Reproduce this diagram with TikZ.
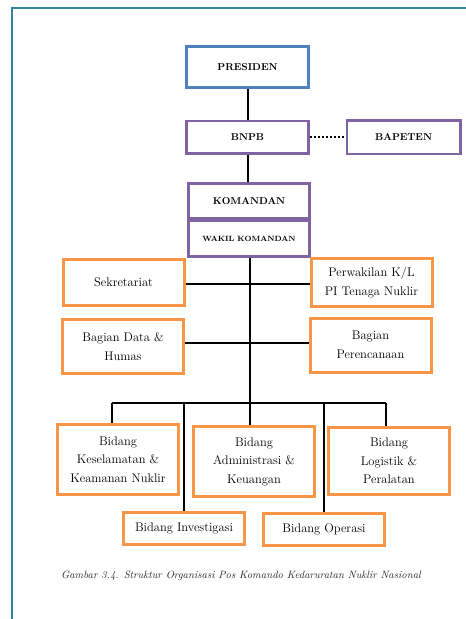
\documentclass[tikz,border=0pt]{standalone}
\usepackage{fontspec}
\usetikzlibrary{positioning, calc}
\definecolor{frameteal}{RGB}{49, 133, 155}
\definecolor{presblue}{RGB}{79, 129, 189}
\definecolor{lembpurple}{RGB}{128, 100, 162}
\definecolor{unitorange}{RGB}{247, 150, 70}
\tikzset{
  orgline/.style={line width=2pt, black},
  linkline/.style={line width=2pt, black, dotted}
}
\newcommand{\boxfont}{\fontsize{12.5}{18.5}\selectfont}
\newcommand{\headfont}{\bfseries\fontsize{10}{12}\selectfont}

\begin{document}
\begin{tikzpicture}[x=1pt, y=1pt,
    every node/.style={inner sep=0pt, align=center},
    presbox/.style={draw=presblue, line width=3pt, font=\headfont},
    lembbox/.style={draw=lembpurple, line width=2.6pt, font=\headfont},
    unitbox/.style={draw=unitorange, line width=3pt, font=\boxfont, minimum width=121pt}]
    \useasboundingbox (0,0) rectangle (466,-619);
    % bingkai halaman
    \draw[frameteal, line width=2pt] (12,-619) -- (12,-8) -- (466,-8);
    % pimpinan
    \node (pres) [presbox, minimum width=122pt, minimum height=41pt] at (247.5,-67) {PRESIDEN};
    \node (bnpb) [lembbox, minimum width=122.5pt, minimum height=32.5pt, below=30.5pt of pres] {BNPB};
    \node (bapeten) [lembbox, minimum width=113.5pt, minimum height=33.5pt, right=35.5pt of bnpb] {BAPETEN};
    \node (kom) [lembbox, minimum width=121.5pt, minimum height=34.8pt, below=27.5pt of bnpb, xshift=1.5pt] {KOMANDAN};
    \node (wakil) [lembbox, minimum width=121.5pt, minimum height=35.8pt, below=0pt of kom,
        font=\bfseries\fontsize{7.6}{9}\selectfont] {WAKIL KOMANDAN};
    % bagian staf
    \node (sekr) [unitbox, minimum height=46pt] at (123.5,-282) {Sekretariat};
    \node (perw) [unitbox, minimum height=48pt] at (371.5,-282.5) {Perwakilan K/L\\PI Tenaga Nuklir};
    \node (data) [unitbox, minimum height=54pt] at (123,-346.5) {Bagian Data \&\\Humas};
    \node (renc) [unitbox, minimum height=54pt] at (370.5,-345) {Bagian\\Perencanaan};
    % bidang
    \node (kesel) [unitbox, minimum height=70pt] at (118,-459.5) {Bidang\\Keselamatan \&\\Keamanan Nuklir};
    \node (admin) [unitbox, minimum height=70pt] at (254,-461.5) {Bidang\\Administrasi \&\\Keuangan};
    \node (logis) [unitbox, minimum height=67pt] at (389,-461) {Bidang\\Logistik \&\\Peralatan};
    \node (invest) [unitbox, minimum height=32pt] at (184,-528.5) {Bidang Investigasi};
    \node (opera) [unitbox, minimum height=32pt] at (324,-529.5) {Bidang Operasi};
    % titik cabang
    \coordinate (bus) at (250,-403);
    \coordinate (busL) at (112,-403);
    \coordinate (busR) at (386,-403);
    % garis komando
    \draw[orgline] (pres) -- (bnpb);
    \draw[linkline] (bnpb) -- (bapeten);
    \draw[orgline] (bnpb.south) -- (bnpb.south |- kom.north);
    \draw[orgline] (wakil.south -| bus) -- (bus);
    \draw[orgline] (sekr.east |- 0,-284) -- (perw.west |- 0,-284);
    \draw[orgline] (data.east |- 0,-343) -- (renc.west |- 0,-343);
    \draw[orgline] (busL) -- (busR);
    \draw[orgline] (busL) -- (busL |- kesel.north);
    \draw[orgline] (busR) -- (busR |- logis.north);
    \draw[orgline] (bus) -- (bus |- admin.north);
    \draw[orgline] (invest.north |- bus) -- (invest.north);
    \draw[orgline] (opera.north |- bus) -- (opera.north);
    % keterangan gambar
    \node (ket) [font=\itshape\fontsize{10.6}{12}\selectfont, text=black!85] at (241,-576)
        {Gambar 3.4. Struktur Organisasi Pos Komando Kedaruratan Nuklir Nasional};
\end{tikzpicture}
\end{document}
